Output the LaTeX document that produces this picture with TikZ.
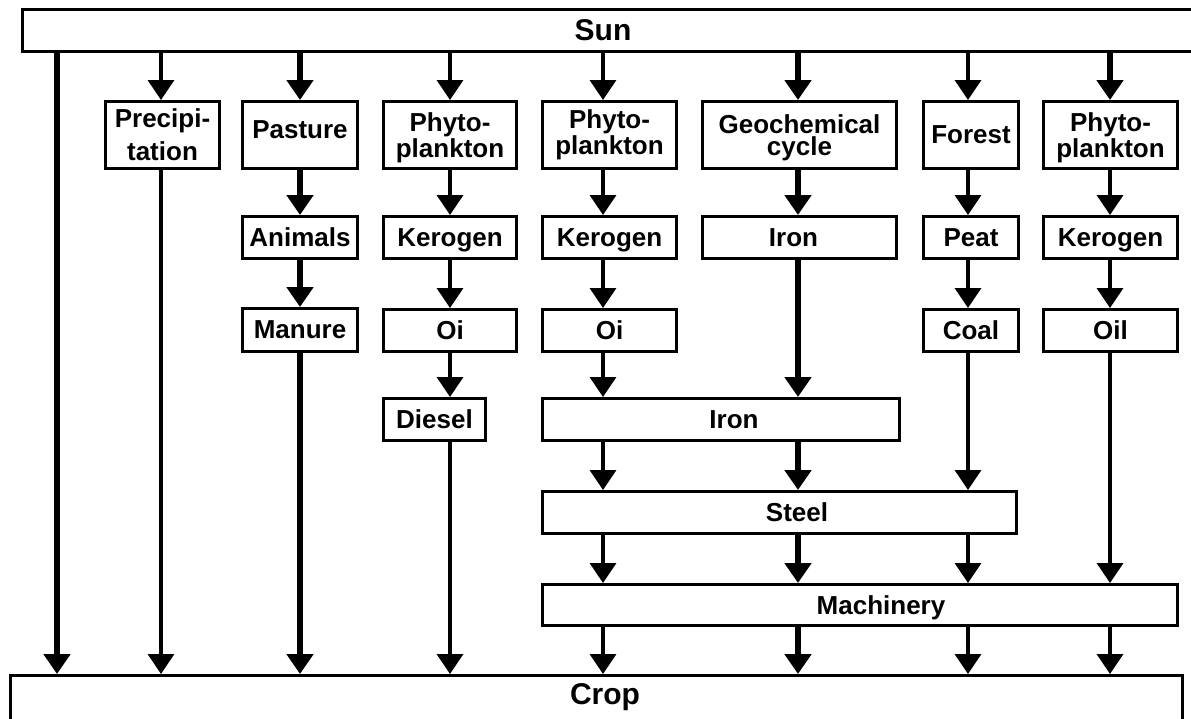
\documentclass[tikz,border=0pt]{standalone}
\usepackage{fontspec}
\setmainfont{Liberation Sans}
\usetikzlibrary{arrows.meta}
\tikzset{
  box/.style={draw=black, line width=3pt, fill=white, inner sep=0pt, align=center,
    text depth=0pt, font=\fontsize{26}{22}\selectfont\bfseries},
  bigtext/.style={font=\fontsize{30}{30}\selectfont\bfseries},
  flow/.style={line width=3.5pt, -{Triangle[length=20pt,width=26pt]}},
  thickflow/.style={line width=6pt, -{Triangle[length=20pt,width=26pt]}},
}
\newcommand\bx[7][]{\node[box,#1, minimum width={(#5-#3-3)*1pt}, minimum height={(#6-#4-3)*1pt}] (#2) at ({(#3+#5)/2},{(#4+#6)/2}) {#7};}
\begin{document}
\begin{tikzpicture}[x=1pt,y=-1pt]
\clip (0,0) rectangle (1191,718);
\fill[white] (0,0) rectangle (1191,718);
% column coordinates
\coordinate (c1) at (57,0);
\coordinate (c2) at (161,0);
\coordinate (c3) at (300,0);
\coordinate (c4) at (450,0);
\coordinate (c5) at (603,0);
\coordinate (c6) at (798,0);
\coordinate (c7) at (968,0);
\coordinate (c8) at (1110,0);
% boxes
\bx[bigtext]{sun}{21}{8}{1205}{53}{\hspace*{-20pt}Sun}
\bx[font=\fontsize{26}{33}\selectfont\bfseries]{prec}{104}{100}{221}{170}{Precipi-\\tation}
\bx[text depth=10pt]{past}{241}{100}{359}{170}{Pasture}
\bx{anim}{241}{215}{359}{260}{Animals}
\bx{manu}{241}{307}{359}{353}{Manure}
\bx{phA}{382}{100}{518}{170}{Phyto-\\plankton}
\bx{kerA}{382}{215}{518}{260}{Kerogen}
\bx{oiA}{382}{308}{518}{353}{Oi}
\bx{dies}{382}{397}{487}{442}{Diesel}
\bx[text depth=6pt]{phB}{541}{100}{678}{170}{Phyto-\\plankton}
\bx{kerB}{541}{215}{678}{260}{Kerogen}
\bx{oiB}{541}{308}{678}{353}{Oi}
\bx{geo}{701}{100}{898}{170}{Geochemical\\cycle}
\bx{ironA}{701}{215}{898}{260}{\hspace*{-12pt}Iron}
\bx{forest}{922}{100}{1020}{170}{Forest}
\bx{peat}{922}{215}{1020}{260}{Peat}
\bx{coal}{922}{308}{1020}{353}{Coal}
\bx{phC}{1042}{100}{1179}{170}{Phyto-\\plankton}
\bx{kerC}{1042}{215}{1179}{260}{Kerogen}
\bx{oil}{1042}{308}{1179}{353}{Oil}
\bx{ironB}{541}{397}{901}{442}{\hspace*{26pt}Iron}
\bx{steel}{541}{490}{1018}{535}{\hspace*{35pt}Steel}
\bx{mach}{541}{583}{1179}{627}{\hspace*{42pt}Machinery}
\bx[bigtext,text depth=8pt]{crop}{9}{674}{1184}{722}{\hspace*{17pt}Crop}
% column 1
\draw[thickflow] (sun.south -| c1) -- (crop.north -| c1);
% column 2
\draw[flow] (sun.south -| c2) -- (prec.north -| c2);
\draw[flow] (prec.south -| c2) -- (crop.north -| c2);
% column 3
\draw[thickflow] (sun.south -| c3) -- (past.north -| c3);
\draw[thickflow] (past.south -| c3) -- (anim.north -| c3);
\draw[thickflow] (anim.south -| c3) -- (manu.north -| c3);
\draw[thickflow] (manu.south -| c3) -- (crop.north -| c3);
% column 4
\draw[flow] (sun.south -| c4) -- (phA.north -| c4);
\draw[flow] (phA.south -| c4) -- (kerA.north -| c4);
\draw[flow] (kerA.south -| c4) -- (oiA.north -| c4);
\draw[flow] (oiA.south -| c4) -- (dies.north -| c4);
\draw[flow] (dies.south -| c4) -- (crop.north -| c4);
% column 5
\draw[flow] (sun.south -| c5) -- (phB.north -| c5);
\draw[flow] (phB.south -| c5) -- (kerB.north -| c5);
\draw[flow] (kerB.south -| c5) -- (oiB.north -| c5);
\draw[flow] (oiB.south -| c5) -- (ironB.north -| c5);
\draw[flow] (ironB.south -| c5) -- (steel.north -| c5);
\draw[flow] (steel.south -| c5) -- (mach.north -| c5);
\draw[flow] (mach.south -| c5) -- (crop.north -| c5);
% column 6
\draw[thickflow] (sun.south -| c6) -- (geo.north -| c6);
\draw[thickflow] (geo.south -| c6) -- (ironA.north -| c6);
\draw[thickflow] (ironA.south -| c6) -- (ironB.north -| c6);
\draw[thickflow] (ironB.south -| c6) -- (steel.north -| c6);
\draw[thickflow] (steel.south -| c6) -- (mach.north -| c6);
\draw[thickflow] (mach.south -| c6) -- (crop.north -| c6);
% column 7
\draw[flow] (sun.south -| c7) -- (forest.north -| c7);
\draw[flow] (forest.south -| c7) -- (peat.north -| c7);
\draw[flow] (peat.south -| c7) -- (coal.north -| c7);
\draw[flow] (coal.south -| c7) -- (steel.north -| c7);
\draw[flow] (steel.south -| c7) -- (mach.north -| c7);
\draw[flow] (mach.south -| c7) -- (crop.north -| c7);
% column 8
\draw[thickflow] (sun.south -| c8) -- (phC.north -| c8);
\draw[flow] (phC.south -| c8) -- (kerC.north -| c8);
\draw[flow] (kerC.south -| c8) -- (oil.north -| c8);
\draw[flow] (oil.south -| c8) -- (mach.north -| c8);
\draw[flow] (mach.south -| c8) -- (crop.north -| c8);
\end{tikzpicture}
\end{document}
